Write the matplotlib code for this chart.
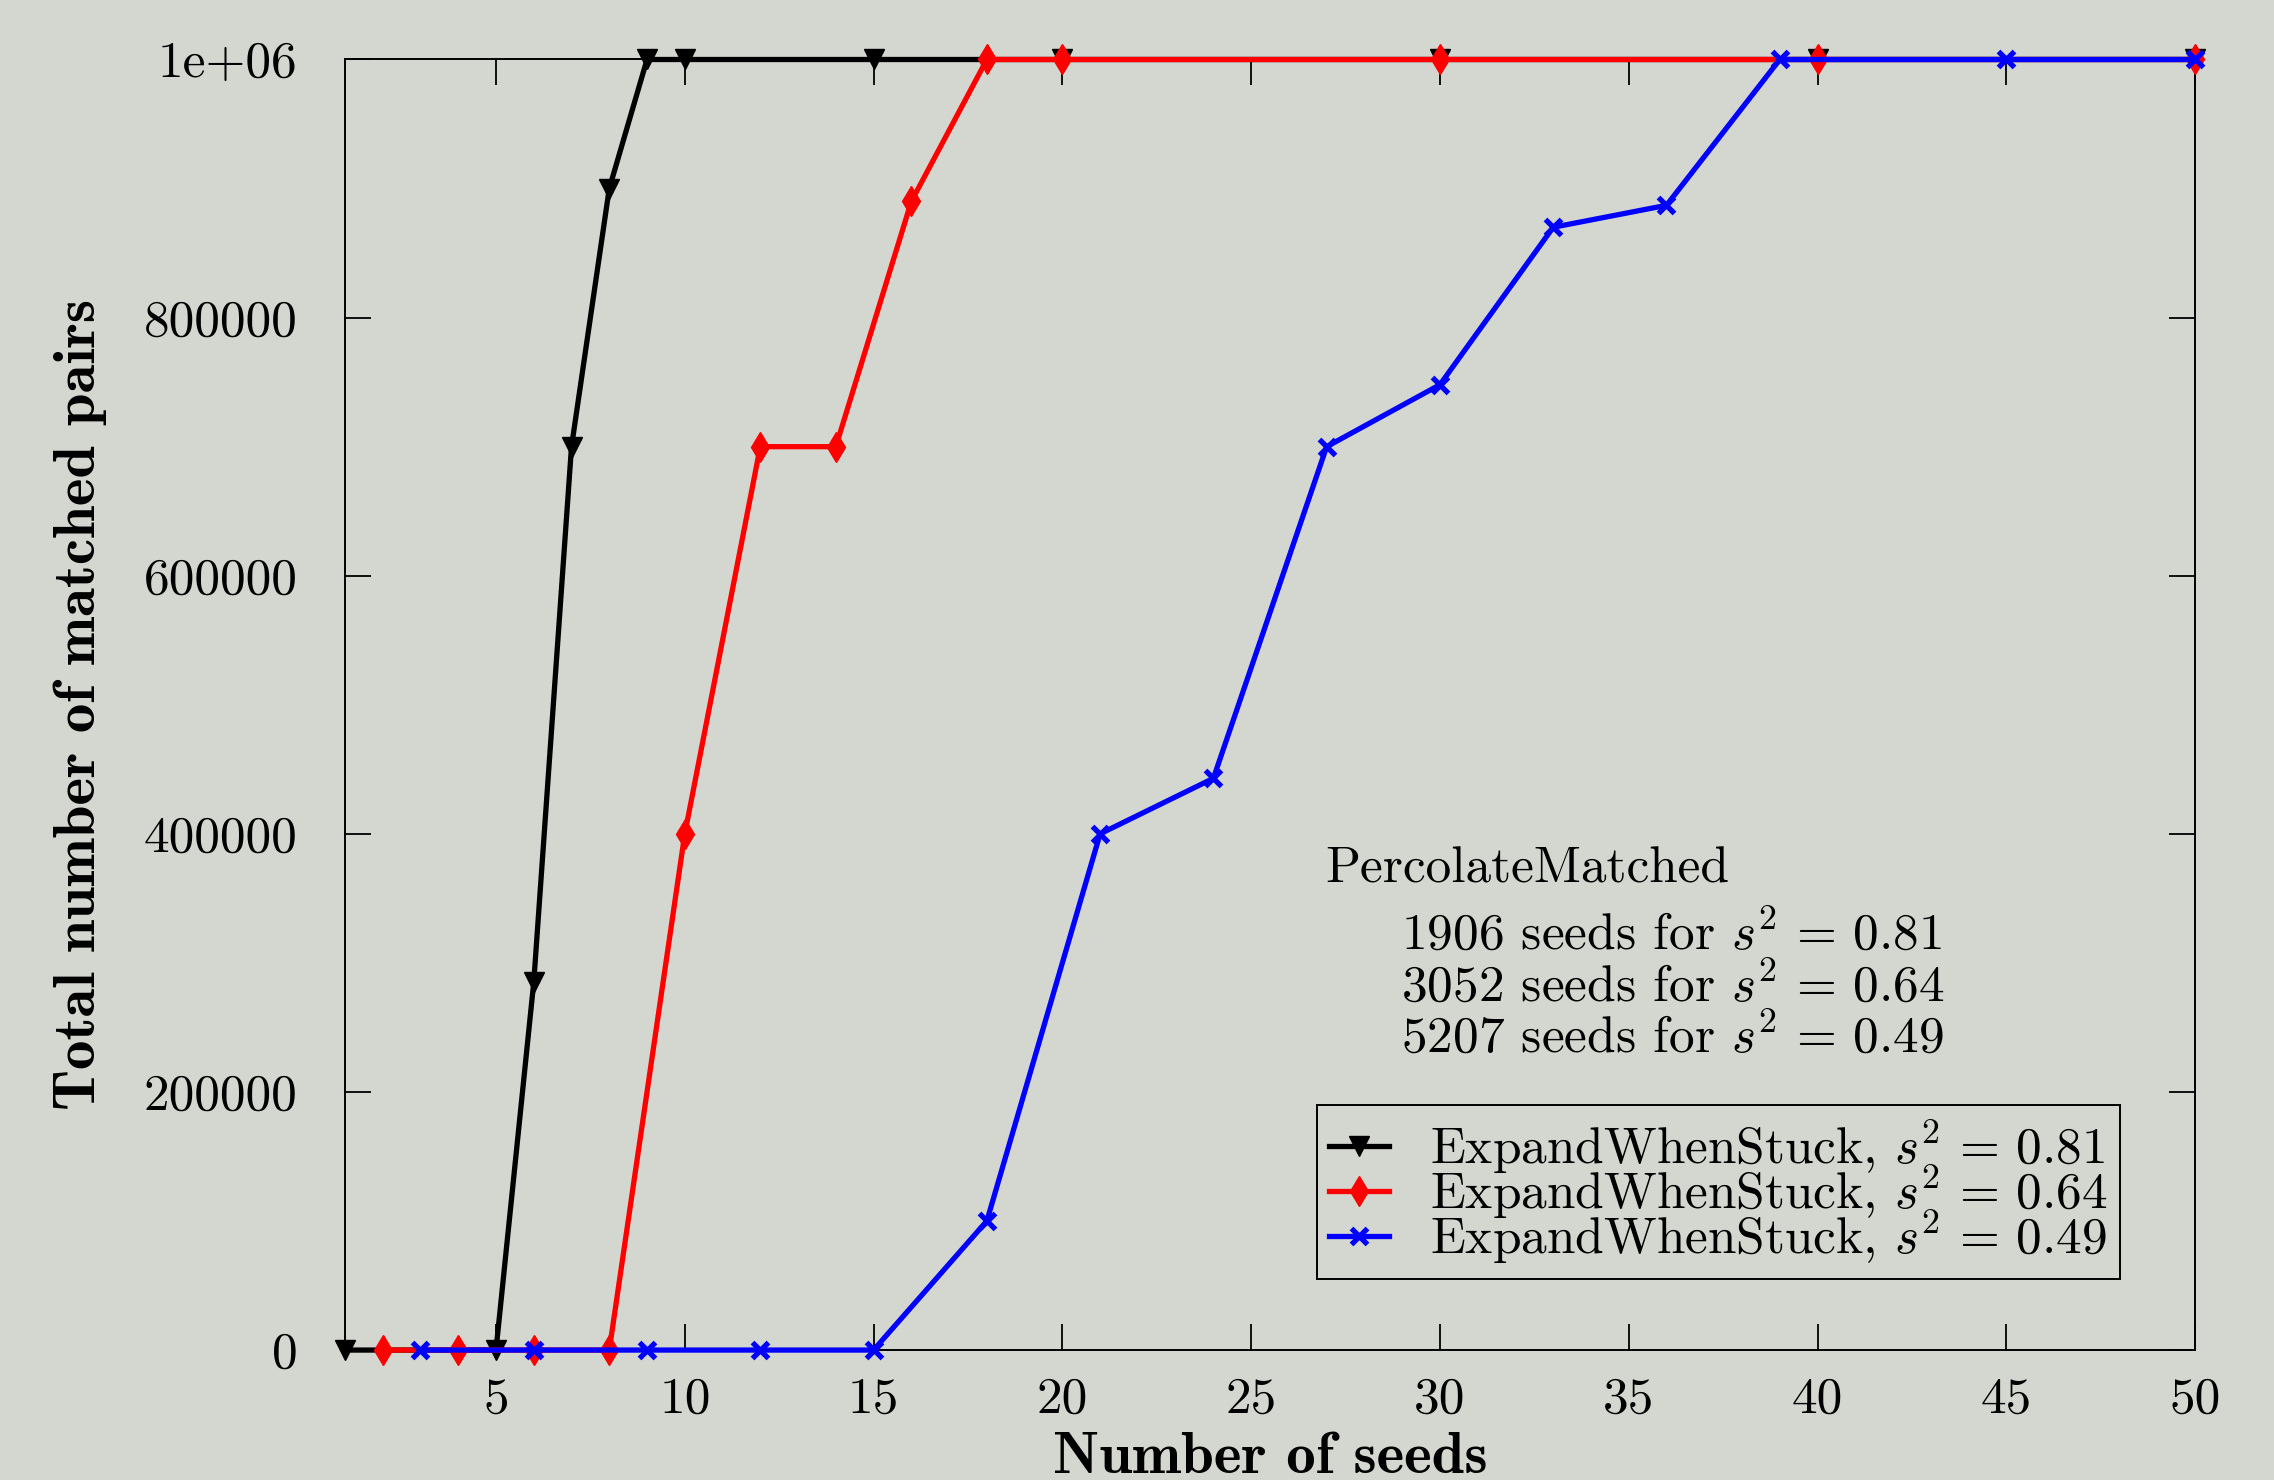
import matplotlib
matplotlib.use("Agg")
import matplotlib.pyplot as plt
from matplotlib.ticker import FuncFormatter

# number of seeds vs total matched pairs, one series per s^2
x_081 = [1, 5, 6, 7, 8, 9, 10, 15, 20, 30, 40, 50]
y_081 = [0, 0, 285000, 700000, 900000, 1000000, 1000000, 1000000,
         1000000, 1000000, 1000000, 1000000]

x_064 = [2, 4, 6, 8, 10, 12, 14, 16, 18, 20, 30, 40, 50]
y_064 = [0, 0, 0, 0, 400000, 700000, 700000, 890000, 1000000,
         1000000, 1000000, 1000000, 1000000]

x_049 = [3, 6, 9, 12, 15, 18, 21, 24, 27, 30, 33, 36, 39, 45, 50]
y_049 = [0, 0, 0, 0, 0, 100000, 400000, 443000, 700000, 748000,
         870000, 887000, 1000000, 1000000, 1000000]

labels = [
    r"ExpandWhenStuck, $s^2 \,=\, 0.81$",
    r"ExpandWhenStuck, $s^2 \,=\, 0.64$",
    r"ExpandWhenStuck, $s^2 \,=\, 0.49$",
]
note_title = "PercolateMatched"
note_lines = [
    r"1906 seeds for $s^2 \,=\, 0.81$",
    r"3052 seeds for $s^2 \,=\, 0.64$",
    r"5207 seeds for $s^2 \,=\, 0.49$",
]
x_ticks = [5, 10, 15, 20, 25, 30, 35, 40, 45, 50]
y_ticks = [0, 200000, 400000, 600000, 800000, 1000000]

BG = "#d4d7d0"
FS = 37

plt.rcParams["font.family"] = ["cmr10"]
plt.rcParams["mathtext.fontset"] = "cm"
plt.rcParams["axes.unicode_minus"] = False

fig = plt.figure(figsize=(22.74, 14.80), dpi=100, facecolor=BG)
ax = fig.add_axes([0.1517, 0.0878, 0.8136, 0.8720])
ax.set_facecolor(BG)

ax.plot(x_081, y_081, color="black", linewidth=3.8, marker="v",
        markersize=15, label=labels[0], clip_on=False, zorder=3)
ax.plot(x_064, y_064, color="red", linewidth=3.8, marker="d",
        markersize=15, label=labels[1], clip_on=False, zorder=4)
ax.plot(x_049, y_049, color="blue", linewidth=3.8, marker="x",
        markersize=12, markeredgewidth=3.8, label=labels[2],
        clip_on=False, zorder=5)

ax.set_xlim(1, 50)
ax.set_ylim(0, 1000000)
ax.set_xticks(x_ticks)
ax.set_yticks(y_ticks)
ax.yaxis.set_major_formatter(
    FuncFormatter(lambda v, _: "1e+06" if v >= 1e6 else f"{int(v)}"))
ax.tick_params(direction="in", top=True, right=True, length=18.5,
               width=1.3, labelsize=FS)
ax.tick_params(axis="y", pad=34)
ax.tick_params(axis="x", pad=19)
for spine in ax.spines.values():
    spine.set_linewidth(1.4)

ax.set_xlabel("Number of seeds", fontsize=42.5, fontfamily="cmb10", va="center")
ax.xaxis.set_label_coords(0.5, -0.084)
ax.set_ylabel("Total number of matched pairs", fontsize=42.5,
              fontfamily="cmb10", va="center")
ax.yaxis.set_label_coords(-0.143, 0.5)

ax.text(0.530, 0.372, note_title, transform=ax.transAxes, fontsize=37,
        ha="left", va="center")
for line, ypos in zip(note_lines, [0.322, 0.282, 0.242]):
    ax.text(0.571, ypos, line, transform=ax.transAxes, fontsize=37,
            ha="left", va="center")

leg = ax.legend(
    loc="lower right", bbox_to_anchor=(2120 / 2274, 201 / 1480),
    bbox_transform=fig.transFigure, borderaxespad=0,
    fontsize=37, frameon=True, fancybox=False, framealpha=1,
    facecolor=BG, edgecolor="black", handlelength=1.15,
    handletextpad=0.8, borderpad=0.25, labelspacing=-0.25)
leg.get_frame().set_linewidth(1.4)

fig.savefig("out.png", dpi=100, facecolor=BG)
